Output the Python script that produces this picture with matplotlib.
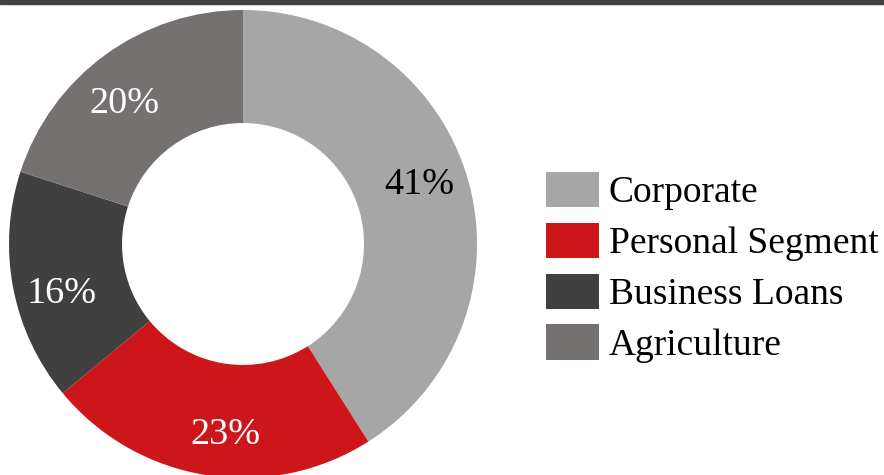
import matplotlib
matplotlib.use("Agg")
import numpy as np
import matplotlib.pyplot as plt
from matplotlib.patches import Rectangle

# -----------------------
# Data
# -----------------------
segments = ["Corporate", "Personal Segment", "Business Loans", "Agriculture"]
shares = [41, 23, 16, 20]
colors = ["#a6a6a6", "#cc1619", "#404040", "#767171"]
label_colors = ["black", "white", "white", "white"]

plt.rcParams["font.family"] = ["Liberation Serif", "DejaVu Serif"]
fs = 27.5
legend_fs = 27

W, H = 884, 475
fig = plt.figure(figsize=(W / 100, H / 100), dpi=100)

# thin dark strip along the top edge
fig.patches.append(Rectangle((0, 1 - 3.5 / H), 1, 3.5 / H, transform=fig.transFigure,
                             color="#404040", zorder=0))

# donut axes: centre (243, 244) px, radius 234 px
cx, cy, r = 243, 244, 234
ax = fig.add_axes([(cx - r) / W, (H - cy - r) / H, 2 * r / W, 2 * r / H])

wedges, texts, autotexts = ax.pie(
    shares,
    colors=colors,
    startangle=90,
    counterclock=False,
    radius=1,
    autopct=lambda p: f"{p:.0f}%",
    pctdistance=0.8,
    wedgeprops=dict(width=0.483, edgecolor="none"),
    textprops=dict(fontsize=fs),
)

# labels sit a little counter-clockwise of the wedge middle in the original
shift = np.deg2rad(3.5)
for t, c in zip(autotexts, label_colors):
    x, y = t.get_position()
    t.set_position((x * np.cos(shift) - y * np.sin(shift),
                    x * np.sin(shift) + y * np.cos(shift)))
    t.set_color(c)
    t.set_va("center_baseline")

ax.set_xlim(-1, 1)
ax.set_ylim(-1, 1)
ax.set_aspect("equal")
ax.axis("off")

# Legend
fig.legend(
    wedges, segments,
    loc="upper left",
    bbox_to_anchor=(546 / W, 1 - 172 / H),
    frameon=False,
    fontsize=legend_fs,
    handlelength=1.41,
    handleheight=1.07,
    handletextpad=0.27,
    labelspacing=0.33,
    borderpad=0,
    borderaxespad=0,
)

plt.savefig("out.png", dpi=100)
